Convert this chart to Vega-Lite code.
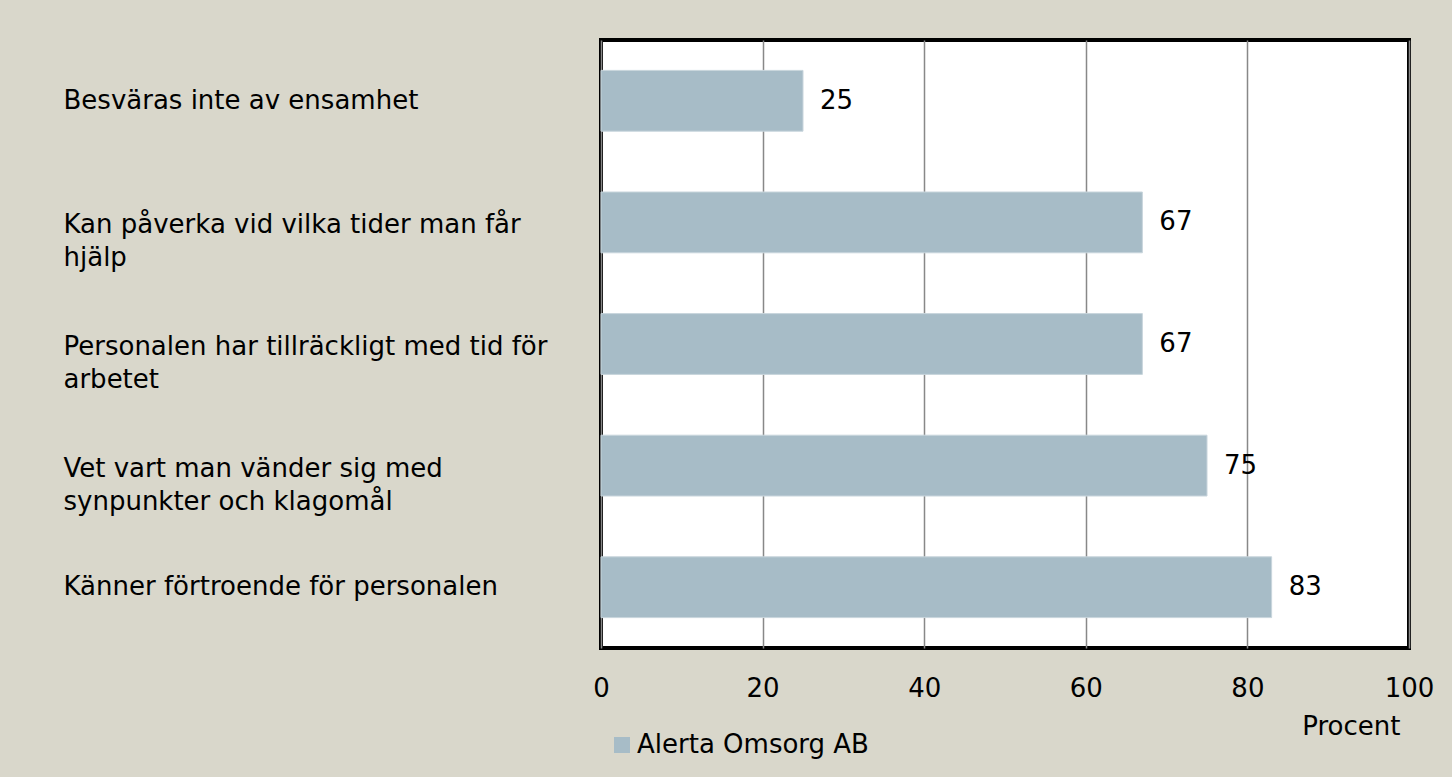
{
  "$schema": "https://vega.github.io/schema/vega-lite/v6.json",
  "width": 808,
  "height": 608,
  "autosize": {"type": "none"},
  "padding": {"left": 601, "top": 40, "right": 43, "bottom": 129},
  "background": "#D9D7CB",
  "config": {
    "view": {"fill": "#FFFFFF", "stroke": "#000000", "strokeWidth": 4},
    "font": "DejaVu Sans"
  },
  "data": {
    "values": [
      {"item": "Besväras inte av ensamhet", "series": "Alerta Omsorg AB", "value": 25},
      {"item": "Kan påverka vid vilka tider man får|hjälp", "series": "Alerta Omsorg AB", "value": 67},
      {"item": "Personalen har tillräckligt med tid för|arbetet", "series": "Alerta Omsorg AB", "value": 67},
      {"item": "Vet vart man vänder sig med|synpunkter och klagomål", "series": "Alerta Omsorg AB", "value": 75},
      {"item": "Känner förtroende för personalen", "series": "Alerta Omsorg AB", "value": 83}
    ]
  },
  "encoding": {
    "y": {
      "field": "item",
      "type": "nominal",
      "sort": null,
      "scale": {"paddingInner": 0.5, "paddingOuter": 0.25},
      "axis": {
        "title": null,
        "domain": false,
        "ticks": false,
        "tickSize": 0,
        "labelAlign": "left",
        "labelPadding": 538,
        "labelLimit": 0,
        "labelFont": "DejaVu Sans",
        "labelFontSize": 26,
        "labelColor": "#000000",
        "labelLineHeight": 33,
        "labelExpr": "split(datum.label, '|')",
        "labelOffset": {"condition": {"test": "indexof(datum.label, '|') >= 0", "value": 3}, "value": 0}
      }
    },
    "x": {
      "field": "value",
      "type": "quantitative",
      "scale": {"domain": [0, 100], "nice": false},
      "axis": {
        "values": [0, 20, 40, 60, 80, 100],
        "title": "Procent",
        "titleFont": "DejaVu Sans",
        "titleFontSize": 26,
        "titleFontWeight": "normal",
        "titleColor": "#000000",
        "titleAlign": "right",
        "titleAnchor": null,
        "titleBaseline": "alphabetic",
        "titleX": 799,
        "titleY": 86,
        "domain": false,
        "ticks": false,
        "tickSize": 0,
        "labelPadding": 27,
        "labelFlush": false,
        "labelFont": "DejaVu Sans",
        "labelFontSize": 26,
        "labelColor": "#000000",
        "grid": true,
        "gridColor": "#888888",
        "gridWidth": 1.5
      }
    }
  },
  "layer": [
    {
      "mark": {"type": "bar", "stroke": "#C8D5DC", "strokeWidth": 1},
      "encoding": {
        "color": {
          "field": "series",
          "type": "nominal",
          "scale": {"range": ["#A7BCC7"]},
          "legend": {
            "title": null,
            "orient": "none",
            "legendX": 8,
            "legendY": 692,
            "padding": 0,
            "symbolType": "square",
            "symbolSize": 256,
            "symbolStrokeWidth": 0,
            "symbolOffset": 0,
            "labelOffset": 2,
            "labelFont": "DejaVu Sans",
            "labelFontSize": 26,
            "labelColor": "#000000",
            "labelLimit": 0
          }
        }
      }
    },
    {
      "mark": {"type": "text", "align": "left", "baseline": "middle", "dx": 17, "font": "DejaVu Sans", "fontSize": 26, "color": "#000000"},
      "encoding": {"text": {"field": "value", "type": "quantitative"}}
    }
  ]
}
